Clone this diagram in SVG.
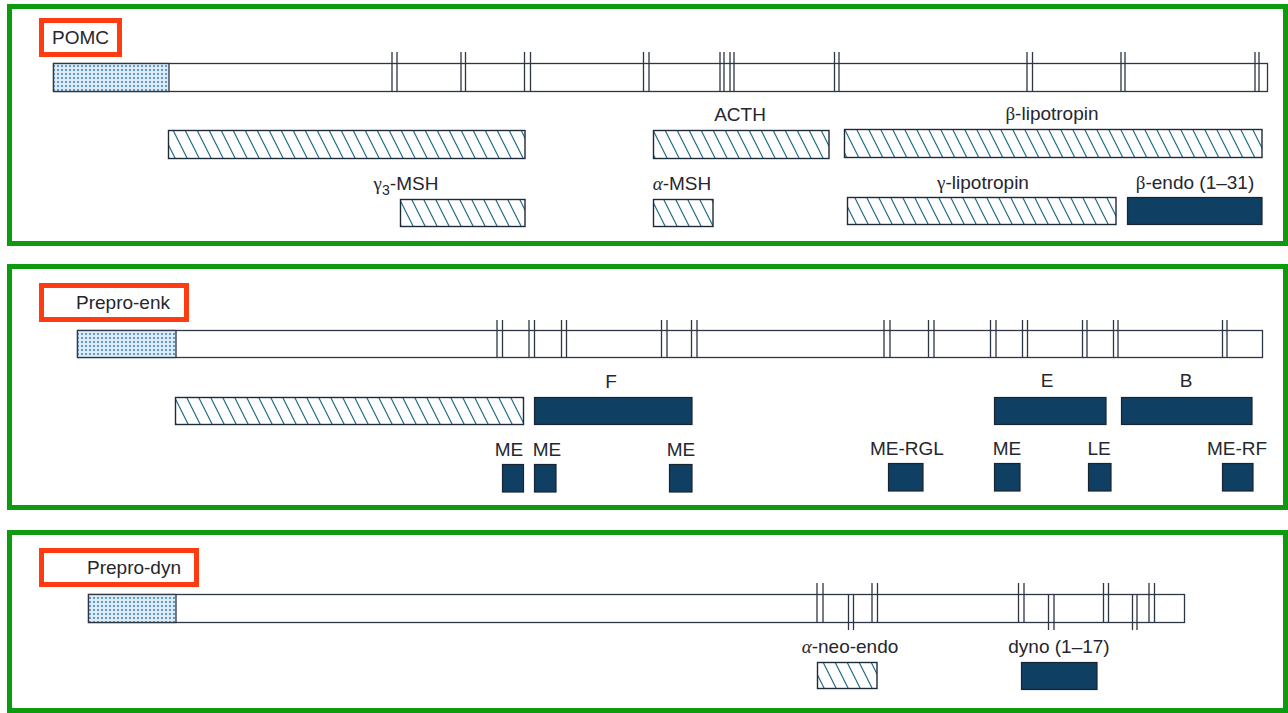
<svg xmlns="http://www.w3.org/2000/svg" width="1288" height="713" viewBox="0 0 1288 713">
<defs>
<pattern id="hatch" patternUnits="userSpaceOnUse" width="12" height="24">
<rect width="12" height="24" fill="#ffffff"/>
<path d="M-1,-2 L13,26 M-13,-2 L1,26 M11,-2 L25,26" stroke="#1e6a8c" stroke-width="1.2" fill="none"/>
</pattern>
<pattern id="stipple" patternUnits="userSpaceOnUse" width="4" height="4">
<rect width="4" height="4" fill="#dcecf7"/>
<circle cx="2" cy="2" r="0.9" fill="#2f6fae"/>
</pattern>
<style>
.panel{fill:none;stroke:#0e9a0e;stroke-width:5}
.tag{fill:#ffffff;stroke:#ff3b12;stroke-width:5}
.bar{fill:#ffffff;stroke:#2e3545;stroke-width:1.3}
.sig{fill:url(#stipple);stroke:#2e3545;stroke-width:1.3}
.hat{fill:url(#hatch);stroke:#1f2a38;stroke-width:1.4}
.dark{fill:#0f3f62;stroke:#1a2430;stroke-width:1.2}
.tick{stroke:#2e3545;stroke-width:1.3;fill:none}
text{font-family:"Liberation Sans",Arial,sans-serif;font-size:19px;fill:#25262e}
.c{text-anchor:middle}
.gr{font-family:"Liberation Serif","Times New Roman",serif}
.it{font-style:italic}
</style>
</defs>

<g id="panel-pomc">
<rect class="panel" x="9.5" y="6.5" width="1276" height="237"/>
<g id="label-pomc"><rect class="tag" x="41.5" y="20.5" width="78" height="34"/><text x="52" y="44">POMC</text></g>
<g id="pomc-precursor">
<rect class="bar" x="53.5" y="63.5" width="1214" height="28"/>
<rect class="sig" x="53.5" y="63.5" width="115.5" height="28"/>
<path class="tick" d="M392,52V91.5M397,52V91.5M461,52V91.5M465.5,52V91.5M524.5,52V91.5M530.5,52V91.5M643.5,52V91.5M649,52V91.5M720,52V91.5M724,52V91.5M730,52V91.5M734,52V91.5M834.5,52V91.5M839,52V91.5M1027,52V91.5M1032.5,52V91.5M1121,52V91.5M1125,52V91.5M1255,52V91.5M1259,52V91.5"/>
</g>
<g id="pomc-nterm"><rect class="hat" x="168.5" y="130.5" width="356.5" height="28"/></g>
<g id="pomc-acth"><text class="c" x="740" y="121">ACTH</text><rect class="hat" x="653.5" y="130.5" width="175.5" height="28"/></g>
<g id="pomc-blpt"><text class="c" x="1052" y="120"><tspan class="gr">β</tspan>-lipotropin</text><rect class="hat" x="844.5" y="129.5" width="417.5" height="28"/></g>
<g id="pomc-g3msh"><text class="c" x="406" y="190"><tspan class="gr">γ</tspan><tspan font-size="14" dy="5">3</tspan><tspan dy="-5">-MSH</tspan></text><rect class="hat" x="400.5" y="199.5" width="124.5" height="27"/></g>
<g id="pomc-amsh"><text class="c" x="682" y="190"><tspan class="gr it">α</tspan>-MSH</text><rect class="hat" x="653.5" y="199.5" width="59.5" height="27"/></g>
<g id="pomc-glpt"><text class="c" x="983" y="189"><tspan class="gr">γ</tspan>-lipotropin</text><rect class="hat" x="847.5" y="197.5" width="268.5" height="27"/></g>
<g id="pomc-bendo"><text class="c" x="1195" y="189"><tspan class="gr">β</tspan>-endo (1–31)</text><rect class="dark" x="1127.5" y="197.5" width="134.5" height="27"/></g>
</g>

<g id="panel-enk">
<rect class="panel" x="9.5" y="266.5" width="1276" height="241"/>
<g id="label-enk"><rect class="tag" x="41.5" y="285.5" width="145" height="34"/><text x="76" y="309">Prepro-enk</text></g>
<g id="enk-precursor">
<rect class="bar" x="77.5" y="330.5" width="1185" height="27"/>
<rect class="sig" x="77.5" y="330.5" width="98.5" height="27"/>
<path class="tick" d="M497,320V357.5M502.5,320V357.5M529,320V357.5M534.5,320V357.5M561.5,320V357.5M566.5,320V357.5M661.5,320V357.5M667,320V357.5M691.5,320V357.5M697,320V357.5M884,320V357.5M890,320V357.5M928.5,320V357.5M934,320V357.5M990.5,320V357.5M996,320V357.5M1022.5,320V357.5M1027.5,320V357.5M1082.5,320V357.5M1087,320V357.5M1113.5,320V357.5M1118,320V357.5M1222.5,320V357.5M1227,320V357.5"/>
</g>
<g id="enk-nterm"><rect class="hat" x="175.5" y="397.5" width="348" height="27"/></g>
<g id="enk-f"><text class="c" x="611" y="388">F</text><rect class="dark" x="534.5" y="397.5" width="157.5" height="27"/></g>
<g id="enk-e"><text class="c" x="1047" y="387">E</text><rect class="dark" x="994.5" y="397.5" width="111.5" height="27"/></g>
<g id="enk-b"><text class="c" x="1186" y="387">B</text><rect class="dark" x="1121.5" y="397.5" width="130.5" height="27"/></g>
<g id="enk-me1"><text class="c" x="509" y="456">ME</text><rect class="dark" x="502.5" y="464.5" width="21" height="27.5"/></g>
<g id="enk-me2"><text class="c" x="547" y="456">ME</text><rect class="dark" x="534.5" y="464.5" width="21.5" height="27.5"/></g>
<g id="enk-me3"><text class="c" x="681" y="456">ME</text><rect class="dark" x="669.5" y="464.5" width="22.5" height="27.5"/></g>
<g id="enk-mergl"><text class="c" x="907" y="455">ME-RGL</text><rect class="dark" x="888.5" y="463.5" width="34.5" height="27.5"/></g>
<g id="enk-me4"><text class="c" x="1007" y="455">ME</text><rect class="dark" x="994.5" y="463.5" width="25.5" height="27.5"/></g>
<g id="enk-le"><text class="c" x="1099" y="455">LE</text><rect class="dark" x="1088.5" y="463.5" width="22.5" height="27.5"/></g>
<g id="enk-merf"><text class="c" x="1237" y="455">ME-RF</text><rect class="dark" x="1222.5" y="463.5" width="30.5" height="27.5"/></g>
</g>

<g id="panel-dyn">
<rect class="panel" x="9.5" y="532.5" width="1276" height="178"/>
<g id="label-dyn"><rect class="tag" x="41.5" y="550.5" width="155" height="34"/><text x="87" y="574">Prepro-dyn</text></g>
<g id="dyn-precursor">
<rect class="bar" x="88.5" y="594.5" width="1096" height="28"/>
<rect class="sig" x="88.5" y="594.5" width="87.5" height="28"/>
<path class="tick" d="M817,583V622.5M823,583V622.5M872,583V622.5M877.5,583V622.5M1018.5,583V622.5M1024,583V622.5M1103.5,583V622.5M1108.5,583V622.5M1149,583V622.5M1154.5,583V622.5M848.5,594.5V630M853.5,594.5V630M1048.5,594.5V630M1054,594.5V630M1132.5,594.5V630M1137,594.5V630"/>
</g>
<g id="dyn-aneo"><text class="c" x="850" y="653"><tspan class="gr it">α</tspan>-neo-endo</text><rect class="hat" x="817.5" y="662.5" width="59.5" height="26"/></g>
<g id="dyn-dyno"><text class="c" x="1059" y="653">dyno (1–17)</text><rect class="dark" x="1021.5" y="662.5" width="75.5" height="27"/></g>
</g>
</svg>
